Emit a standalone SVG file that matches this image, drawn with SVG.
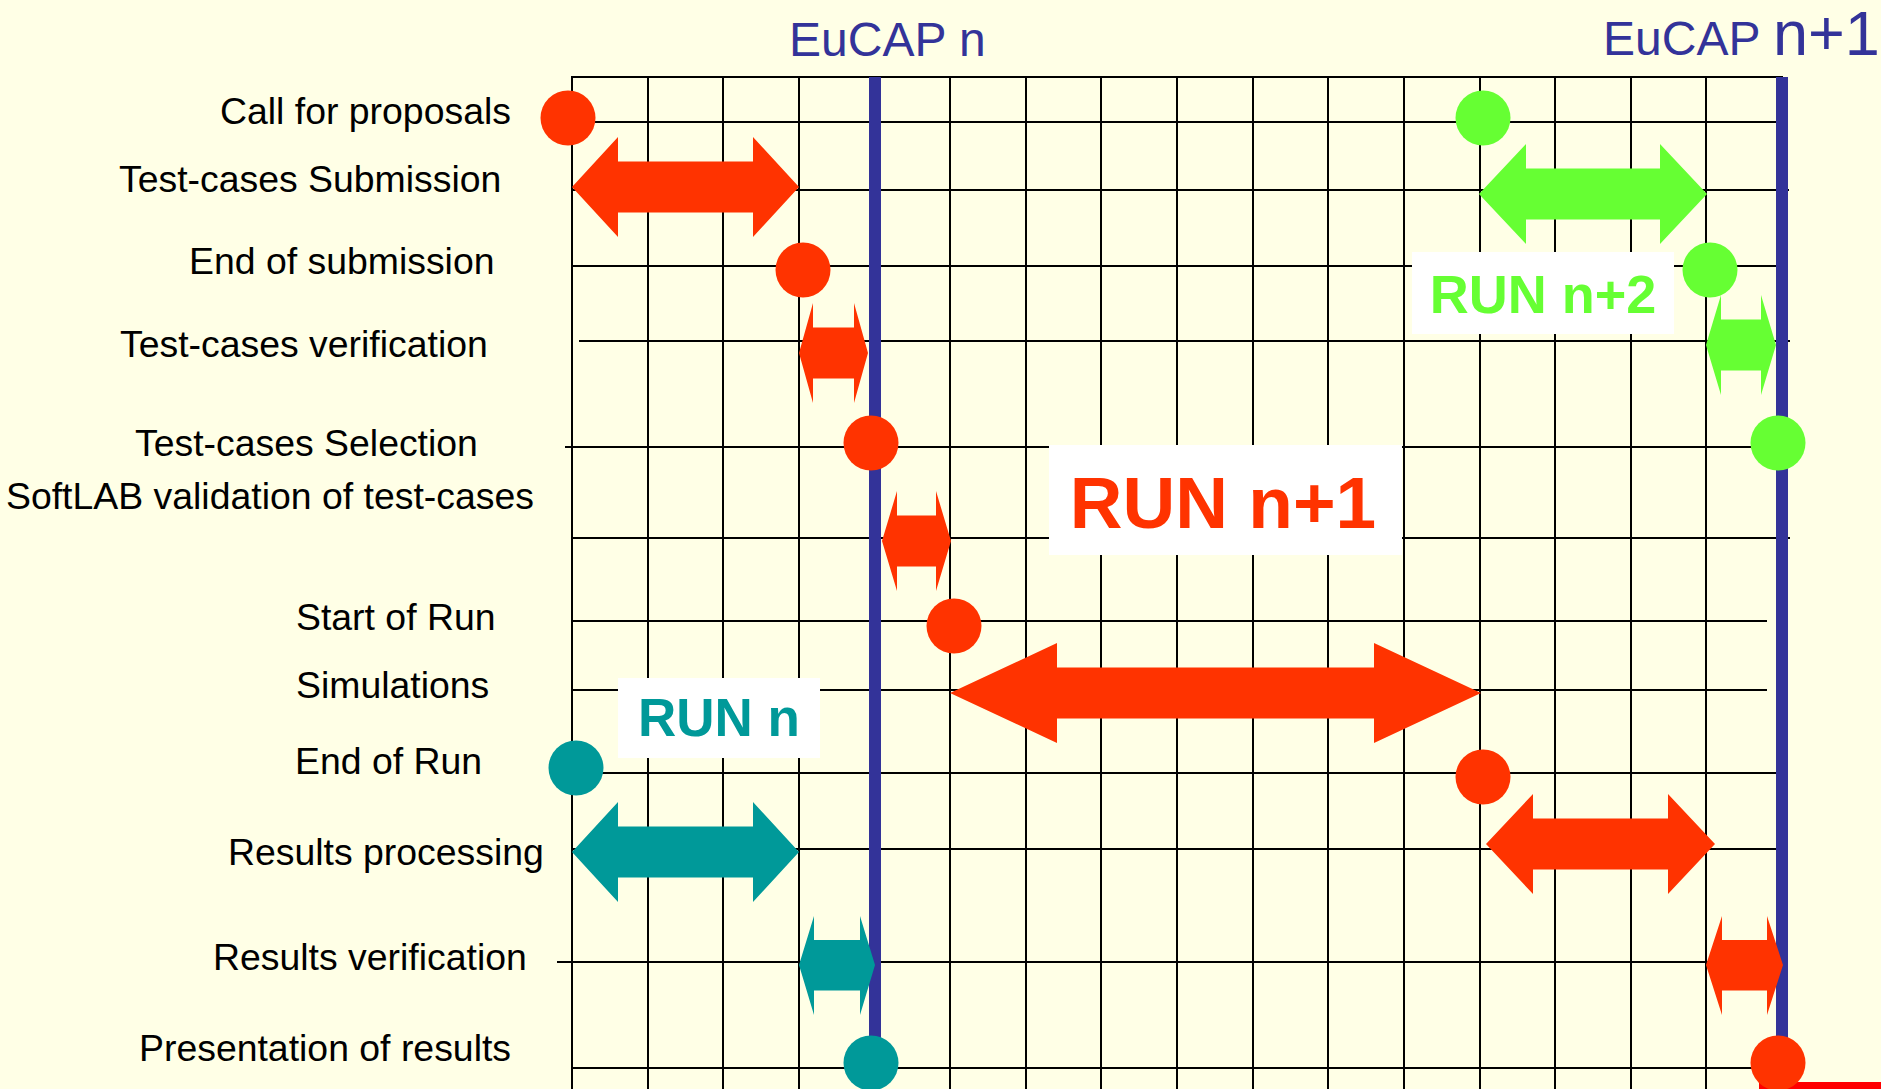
<svg xmlns="http://www.w3.org/2000/svg" width="1881" height="1089" viewBox="0 0 1881 1089">
<style>
.grid line{stroke:#000;stroke-width:2}
.lbl{font-family:"Liberation Sans",Arial,sans-serif;font-size:37.4px;fill:#000}
.eu{font-family:"Liberation Sans",Arial,sans-serif;font-size:48px;fill:#333399}
.run{font-family:"Liberation Sans",Arial,sans-serif;font-weight:bold;text-anchor:middle}
.red{fill:#FF3300}
.grn{fill:#66FF33}
.teal{fill:#009999}
.box{fill:#FFFFFF}
.eucap{stroke:#333399;stroke-width:12}
</style>
<rect x="0" y="0" width="1881" height="1089" fill="#FFFFE6"/>

<g id="grid" class="grid">
<line x1="572" y1="77" x2="572" y2="1089"/>
<line x1="648" y1="77" x2="648" y2="1089"/>
<line x1="723" y1="77" x2="723" y2="1089"/>
<line x1="799" y1="77" x2="799" y2="1089"/>
<line x1="950" y1="77" x2="950" y2="1089"/>
<line x1="1026" y1="77" x2="1026" y2="1089"/>
<line x1="1101" y1="77" x2="1101" y2="1089"/>
<line x1="1177" y1="77" x2="1177" y2="1089"/>
<line x1="1253" y1="77" x2="1253" y2="1089"/>
<line x1="1328" y1="77" x2="1328" y2="1089"/>
<line x1="1404" y1="77" x2="1404" y2="1089"/>
<line x1="1480" y1="77" x2="1480" y2="1089"/>
<line x1="1555" y1="77" x2="1555" y2="1089"/>
<line x1="1631" y1="77" x2="1631" y2="1089"/>
<line x1="1706" y1="77" x2="1706" y2="1089"/>
<line x1="571" y1="77" x2="1783" y2="77"/>
<line x1="572" y1="122" x2="1776" y2="122"/>
<line x1="572" y1="190" x2="1789" y2="190"/>
<line x1="572" y1="266" x2="1776" y2="266"/>
<line x1="579" y1="341" x2="1790" y2="341"/>
<line x1="565" y1="447" x2="1778" y2="447"/>
<line x1="572" y1="538" x2="1790" y2="538"/>
<line x1="572" y1="621" x2="1767" y2="621"/>
<line x1="572" y1="690" x2="1767" y2="690"/>
<line x1="572" y1="773" x2="1776" y2="773"/>
<line x1="572" y1="849" x2="1776" y2="849"/>
<line x1="557" y1="962" x2="1776" y2="962"/>
<line x1="572" y1="1068" x2="1776" y2="1068"/>
</g>

<g id="label-boxes">
<rect class="box" x="1049" y="445" width="353" height="110"/>
<rect class="box" x="618" y="678" width="202" height="80"/>
<rect class="box" x="1412" y="252" width="262" height="82"/>
</g>

<g id="eucap-lines">
<line class="eucap" x1="875" y1="77" x2="875" y2="1063"/>
<line class="eucap" x1="1782" y1="77" x2="1782" y2="1063"/>
</g>

<rect id="bottom-bar" x="1759" y="1082" width="122" height="7" fill="#FF0000"/>

<g id="connectors">
<polygon class="red" points="572,187 618,137 618,161.5 753,161.5 753,137 799,187 753,237 753,212.5 618,212.5 618,237"/>
<polygon class="red" points="799,353 813,303 813,327.5 854,327.5 854,303 868,353 854,403 854,378.5 813,378.5 813,403"/>
<polygon class="red" points="882,541 897,491 897,515.5 936,515.5 936,491 951,541 936,591 936,566.5 897,566.5 897,591"/>
<polygon class="red" points="950,693 1057,643 1057,667.5 1374,667.5 1374,643 1481,693 1374,743 1374,718.5 1057,718.5 1057,743"/>
<polygon class="teal" points="572,852 618,802 618,826.5 753,826.5 753,802 799,852 753,902 753,877.5 618,877.5 618,902"/>
<polygon class="teal" points="799,965 814,916 814,940 860,940 860,916 875,965 860,1015 860,990.5 814,990.5 814,1015"/>
<polygon class="red" points="1486,844 1533,794 1533,818.5 1668,818.5 1668,794 1715,844 1668,894 1668,869.5 1533,869.5 1533,894"/>
<polygon class="red" points="1706,965 1722,916 1722,940 1767,940 1767,916 1783,965 1767,1015 1767,990.5 1722,990.5 1722,1015"/>
<polygon class="grn" points="1479,194 1526,144 1526,168.5 1660,168.5 1660,144 1707,194 1660,244 1660,219.5 1526,219.5 1526,244"/>
<polygon class="grn" points="1706,345 1721,295 1721,319.5 1761,319.5 1761,295 1776,345 1761,395 1761,370.5 1721,370.5 1721,395"/>
</g>

<g id="milestones">
<g id="m-call-red"><circle class="red" cx="568" cy="118" r="27.5"/></g>
<g id="m-endsub-red"><circle class="red" cx="803" cy="270" r="27.5"/></g>
<g id="m-select-red"><circle class="red" cx="871" cy="443" r="27.5"/></g>
<g id="m-start-red"><circle class="red" cx="954" cy="626" r="27.5"/></g>
<g id="m-endrun-red"><circle class="red" cx="1483" cy="777" r="27.5"/></g>
<g id="m-present-red"><circle class="red" cx="1778" cy="1063" r="27.5"/></g>
<g id="m-call-green"><circle class="grn" cx="1483" cy="118" r="27.5"/></g>
<g id="m-endsub-green"><circle class="grn" cx="1710" cy="270" r="27.5"/></g>
<g id="m-select-green"><circle class="grn" cx="1778" cy="443" r="27.5"/></g>
<g id="m-endrun-teal"><circle class="teal" cx="576" cy="768" r="27.5"/></g>
<g id="m-present-teal"><circle class="teal" cx="871" cy="1063" r="27.5"/></g>
</g>

<g id="row-labels">
<text class="lbl" x="220" y="124">Call for proposals</text>
<text class="lbl" x="119" y="192">Test-cases Submission</text>
<text class="lbl" x="189" y="274">End of submission</text>
<text class="lbl" x="120" y="357">Test-cases verification</text>
<text class="lbl" x="135" y="456">Test-cases Selection</text>
<text class="lbl" x="6" y="509">SoftLAB validation of test-cases</text>
<text class="lbl" x="296" y="630">Start of Run</text>
<text class="lbl" x="296" y="698">Simulations</text>
<text class="lbl" x="295" y="774">End of Run</text>
<text class="lbl" x="228" y="865">Results processing</text>
<text class="lbl" x="213" y="970">Results verification</text>
<text class="lbl" x="139" y="1061">Presentation of results</text>
</g>

<g id="eucap-labels">
<text class="eu" x="789" y="56">EuCAP n</text>
<text class="eu" x="1603" y="55">EuCAP <tspan font-size="63">n+1</tspan></text>
</g>

<g id="run-labels">
<text class="run" x="1223" y="528" font-size="73" fill="#FF3300">RUN n+1</text>
<text class="run" x="719" y="736" font-size="53" fill="#009999">RUN n</text>
<text class="run" x="1543" y="313" font-size="54" fill="#66FF33">RUN n+2</text>
</g>
</svg>
